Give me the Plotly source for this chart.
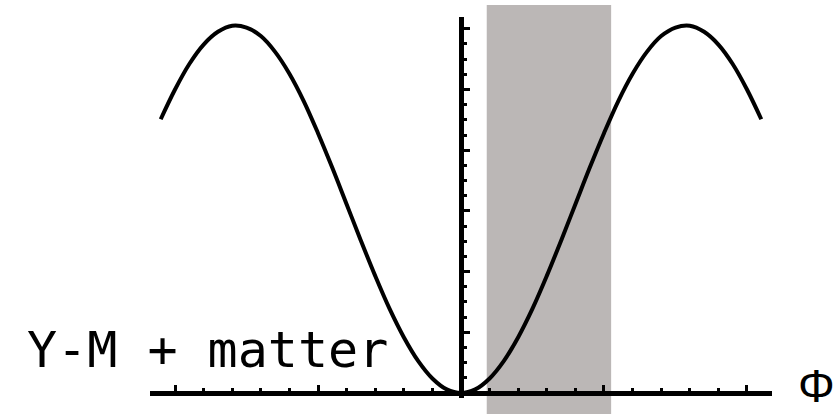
import plotly.graph_objects as go

# Potential V(Φ) sampled along the field axis
phi = [-2.1, -2.0, -1.9, -1.8, -1.7, -1.6, -1.5, -1.4, -1.3, -1.2, -1.1,
       -1.0, -0.9, -0.8, -0.7, -0.6, -0.5, -0.4, -0.3, -0.2, -0.1, 0.0,
       0.1, 0.2, 0.3, 0.4, 0.5, 0.6, 0.7, 0.8, 0.9, 1.0,
       1.1, 1.2, 1.3, 1.4, 1.5, 1.6, 1.7, 1.8, 1.9, 2.0, 2.1]
potential = [4.51, 5.00, 5.42, 5.74, 5.95, 6.05, 6.02, 5.88, 5.62, 5.26, 4.81,
             4.28, 3.71, 3.11, 2.51, 1.93, 1.39, 0.92, 0.53, 0.24, 0.06, 0.0,
             0.06, 0.24, 0.53, 0.92, 1.39, 1.93, 2.51, 3.11, 3.71, 4.28,
             4.81, 5.26, 5.62, 5.88, 6.02, 6.05, 5.95, 5.74, 5.42, 5.00, 4.51]

# Shaded window of field values
band_lo = 0.18
band_hi = 1.05

label_text = "Y-M + matter"
axis_label = "Φ"

x_range = [-2.175, 2.175]
y_range = [-0.082, 6.194]

W, H = 838, 414
M = dict(l=150, r=66, t=17, b=16)
plot_w = W - M["l"] - M["r"]
plot_h = H - M["t"] - M["b"]


def px_to_paper_x(px):
    return (px - M["l"]) / plot_w


def px_to_paper_y(py):
    return (H - M["b"] - py) / plot_h


fig = go.Figure()

fig.add_trace(go.Scatter(
    x=phi, y=potential, mode="lines",
    line=dict(color="black", width=4, shape="spline"),
    hoverinfo="skip", showlegend=False,
))

fig.add_shape(
    type="rect", xref="x", yref="paper",
    x0=band_lo, x1=band_hi, y0=px_to_paper_y(H + 2), y1=px_to_paper_y(5),
    fillcolor="#bbb7b6", line=dict(width=0), layer="below",
)

# Cross-shaped axes through the origin
x_origin_pos = (0 - y_range[0]) / (y_range[1] - y_range[0])
y_origin_pos = (0 - x_range[0]) / (x_range[1] - x_range[0])

fig.update_xaxes(
    range=x_range, anchor="free", position=x_origin_pos,
    showline=True, linecolor="black", linewidth=4.5,
    showgrid=False, zeroline=False, showticklabels=False,
    ticks="inside", dtick=1, tick0=0, ticklen=6, tickwidth=3, tickcolor="black",
    minor=dict(dtick=0.2, tick0=0, ticks="inside", ticklen=3, tickwidth=2.5,
               tickcolor="black", showgrid=False),
)
fig.update_yaxes(
    range=y_range, anchor="free", position=y_origin_pos,
    showline=True, linecolor="black", linewidth=4.5,
    showgrid=False, zeroline=False, showticklabels=False,
    ticks="inside", dtick=1, tick0=0, ticklen=6, tickwidth=3, tickcolor="black",
    minor=dict(dtick=0.25, tick0=0, ticks="inside", ticklen=3, tickwidth=2.5,
               tickcolor="black", showgrid=False),
)

fig.add_annotation(
    text=label_text, xref="paper", yref="paper",
    x=px_to_paper_x(25), y=px_to_paper_y(350),
    xanchor="left", yanchor="middle", showarrow=False,
    font=dict(family="DejaVu Sans Mono", size=50, color="black"),
)
fig.add_annotation(
    text=axis_label, xref="paper", yref="paper",
    x=px_to_paper_x(816), y=px_to_paper_y(386),
    xanchor="center", yanchor="middle", showarrow=False,
    font=dict(family="Liberation Sans", size=46, color="black"),
)

fig.update_layout(
    width=W, height=H, margin=M,
    paper_bgcolor="white", plot_bgcolor="white",
    showlegend=False,
)

fig.write_html("out.html")
